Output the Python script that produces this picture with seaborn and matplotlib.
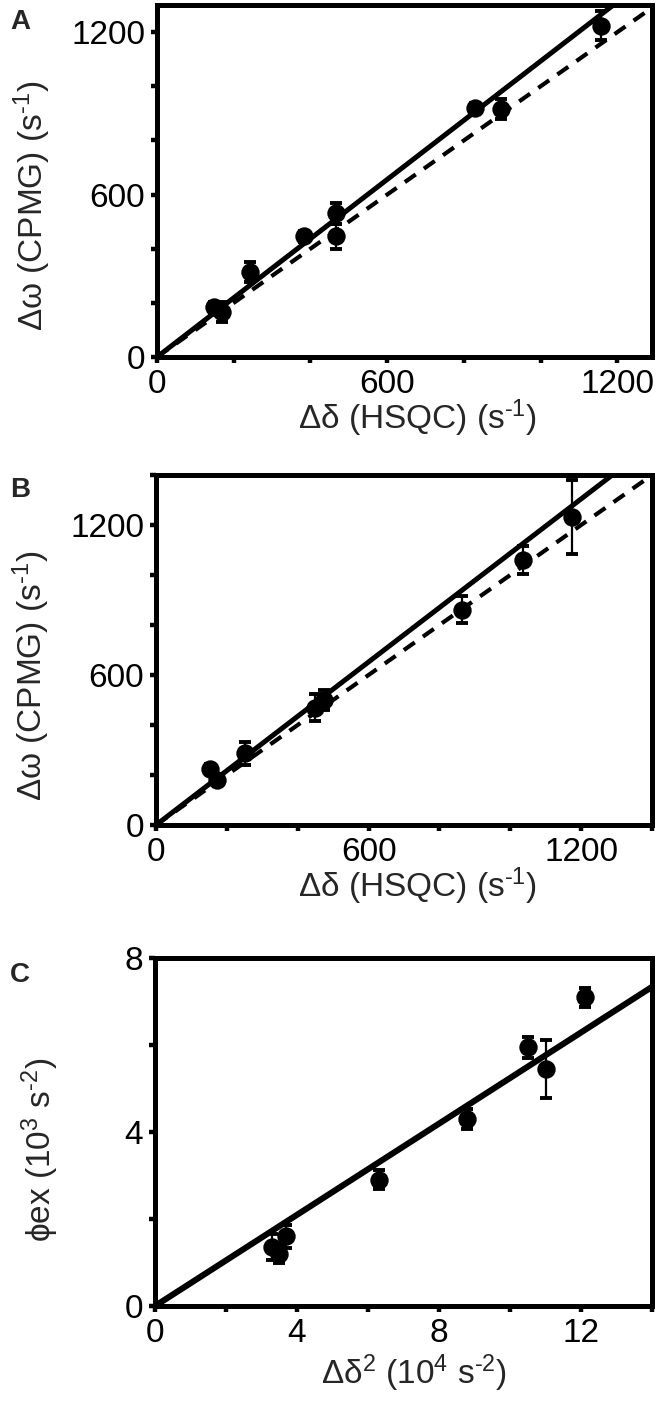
import numpy as np
import pandas as pd
import matplotlib
matplotlib.use("Agg")
import matplotlib.pyplot as plt
from matplotlib.ticker import MultipleLocator, FuncFormatter
import seaborn as sns

# ---------------- data ----------------
# Panel A
a_x = [149, 170, 243, 382, 466, 466, 830, 896, 1157]
a_y = [183, 165, 313, 446, 530, 446, 919, 916, 1224]
a_err = [20, 37, 37, 20, 38, 47, 20, 37, 52]
a_slope = 1.093
# Panel B
b_x = [153, 173, 251, 450, 475, 865, 1036, 1173]
b_y = [225, 179, 288, 470, 500, 862, 1060, 1233]
b_err = [20, 20, 46, 55, 40, 53, 55, 149]
b_slope = 1.087
# Panel C
c_x = [3.3, 3.5, 3.7, 6.3, 8.8, 10.5, 11.0, 12.1]
c_y = [1.35, 1.2, 1.6, 2.9, 4.3, 5.95, 5.45, 7.1]
c_err = [0.3, 0.2, 0.27, 0.22, 0.23, 0.24, 0.66, 0.22]
c_slope = 0.524

ab_ticklabels = [0, 600, 1200]
c_ticklabels_x = [0, 4, 8, 12]
c_ticklabels_y = [0, 4, 8]

# ---------------- style ----------------
sns.set_style("white")
plt.rcParams['font.family'] = ['Liberation Sans', 'DejaVu Sans']
plt.rcParams['mathtext.fontset'] = 'custom'
plt.rcParams['mathtext.rm'] = 'Liberation Sans'
plt.rcParams['mathtext.it'] = 'Liberation Sans'
plt.rcParams['mathtext.bf'] = 'Liberation Sans:bold'

FS = 24
W, H = 664, 1405
fig = plt.figure(figsize=(W / 100, H / 100), dpi=100)


def add_ax(left, top, right, bottom):
    return fig.add_axes([left / W, 1 - bottom / H, (right - left) / W, (bottom - top) / H])


def style_axes(ax, major, labels_x, labels_y):
    for s in ax.spines.values():
        s.set_linewidth(3.6)
        s.set_color('black')
        s.set_visible(True)
    ax.xaxis.set_major_locator(MultipleLocator(major))
    ax.yaxis.set_major_locator(MultipleLocator(major))
    fx = FuncFormatter(lambda v, p: f"{v:g}" if any(abs(v - t) < 1e-6 for t in labels_x) else "")
    fy = FuncFormatter(lambda v, p: f"{v:g}" if any(abs(v - t) < 1e-6 for t in labels_y) else "")
    ax.xaxis.set_major_formatter(fx)
    ax.yaxis.set_major_formatter(fy)
    ax.tick_params(axis='both', which='major', direction='out', length=4.5, width=3.2,
                   color='black', labelsize=FS, labelcolor='black', pad=4,
                   bottom=True, left=True, top=False, right=False)
    ax.grid(False)
    ax.set_facecolor('white')


def draw_points(ax, xs, ys, errs):
    df = pd.DataFrame({'x': xs, 'y': ys, 'err': errs})
    ax.errorbar(df['x'], df['y'], yerr=df['err'], fmt='none', ecolor='black',
                elinewidth=1.6, capsize=4.5, capthick=2.8, zorder=3)
    sns.scatterplot(data=df, x='x', y='y', ax=ax, s=175, color='black',
                    edgecolor='black', linewidth=0, zorder=4, legend=False)


def draw_fit(ax, slope, xmax, lw, dashed=False):
    xs = np.array([0.0, xmax])
    df = pd.DataFrame({'x': xs, 'y': slope * xs})
    sns.lineplot(data=df, x='x', y='y', ax=ax, color='black', lw=lw, zorder=2)
    ln = ax.lines[-1]
    ln.set_clip_on(True)
    if dashed:
        ln.set_dashes((3.2, 2.4))
    ln.set_solid_capstyle('butt')


SUP_M1 = r"$^{\text{-1}}$"
SUP_M2 = r"$^{\text{-2}}$"

# ---------------- Panel A ----------------
axA = add_ax(157, 5, 652, 357)
axA.set_xlim(0, 1290)
axA.set_ylim(0, 1300)
draw_fit(axA, 1.0, 1290, 3.0, dashed=True)
draw_fit(axA, a_slope, 1290, 3.6)
draw_points(axA, a_x, a_y, a_err)
style_axes(axA, 200, ab_ticklabels, ab_ticklabels)
axA.set_xlabel("Δδ (HSQC) (s" + SUP_M1 + ")", fontsize=FS)
axA.set_ylabel("Δω (CPMG) (s" + SUP_M1 + ")", fontsize=FS)
axA.xaxis.set_label_coords(0.527, -0.115)
axA.yaxis.set_label_coords(-0.21, 0.43)

# ---------------- Panel B ----------------
axB = add_ax(156, 475, 652, 825)
axB.set_xlim(0, 1400)
axB.set_ylim(0, 1400)
draw_fit(axB, 1.0, 1400, 3.0, dashed=True)
draw_fit(axB, b_slope, 1400, 3.6)
draw_points(axB, b_x, b_y, b_err)
style_axes(axB, 200, ab_ticklabels, ab_ticklabels)
axB.set_xlabel("Δδ (HSQC) (s" + SUP_M1 + ")", fontsize=FS)
axB.set_ylabel("Δω (CPMG) (s" + SUP_M1 + ")", fontsize=FS)
axB.xaxis.set_label_coords(0.527, -0.115)
axB.yaxis.set_label_coords(-0.21, 0.425)

# ---------------- Panel C ----------------
axC = add_ax(155, 958, 652, 1306)
axC.set_xlim(0, 14)
axC.set_ylim(0, 8)
draw_fit(axC, c_slope, 14, 4.4)
draw_points(axC, c_x, c_y, c_err)
style_axes(axC, 2, c_ticklabels_x, c_ticklabels_y)
axC.set_xlabel("Δδ$^{2}$ (10$^{4}$ s" + SUP_M2 + ")", fontsize=FS)
axC.set_ylabel("ϕex (10$^{3}$ s" + SUP_M2 + ")", fontsize=FS)
axC.xaxis.set_label_coords(0.52, -0.135)
axC.yaxis.set_label_coords(-0.19, 0.45)

# ---------------- panel letters ----------------
for lbl, ytop in [("A", 9), ("B", 477), ("C", 962)]:
    fig.text(10 / W, 1 - ytop / H, lbl, fontsize=20, fontweight='bold',
             ha='left', va='top')

fig.savefig("out.png", dpi=100, facecolor='white')
